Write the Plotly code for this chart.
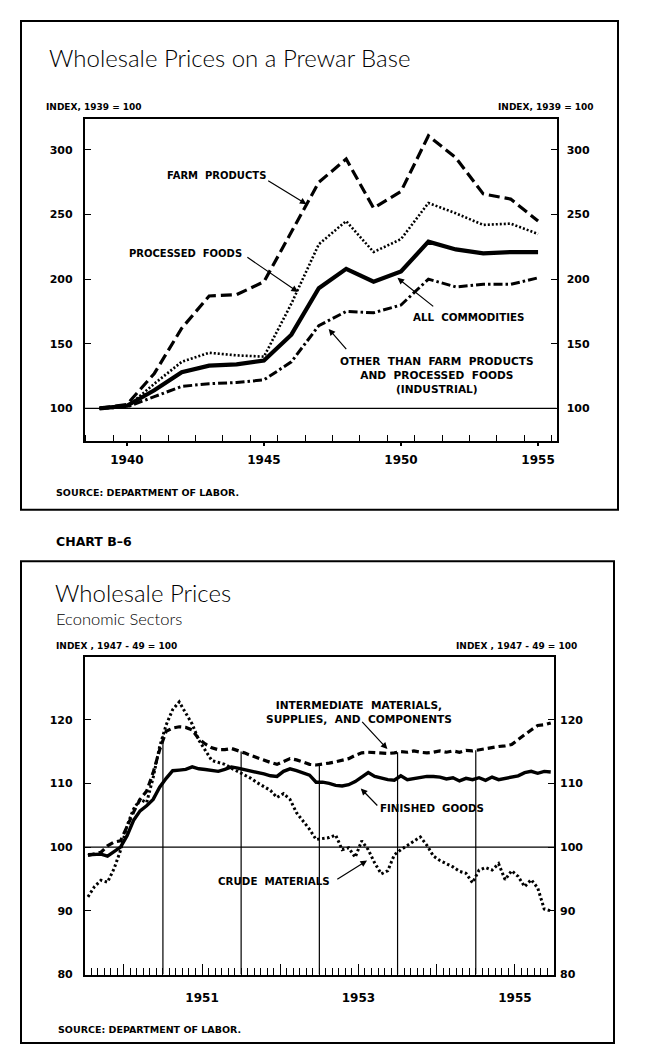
import plotly.graph_objects as go

W, H = 652, 1059

# ---------------- data: chart 1 (annual, 1939 = 100) ----------------
years = list(range(1939, 1956))
farm_products = [100, 103, 127, 162, 187, 188, 198, 237, 275, 293, 255, 268, 311, 294, 266, 262, 245]
processed_foods = [100, 101, 119, 136, 143, 141, 140, 181, 227, 245, 221, 231, 259, 251, 242, 243, 235]
all_commodities = [100, 102, 114, 128, 133, 134, 137, 157, 193, 208, 198, 206, 229, 223, 220, 221, 221]
industrial = [100, 101, 109, 117, 119, 120, 122, 136, 164, 175, 174, 180, 200, 194, 196, 196, 201]
top_ticks = [1940, 1945, 1950, 1955]
top_yticks = [100, 150, 200, 250, 300]

# ---------------- data: chart 2 (monthly 1950-1955, 1947-49 = 100) ----------------
start_year, n_years = 1950, 6
intermediate = [
    98.7, 99.0, 99.2, 100.2, 100.8, 101.0, 103.4, 105.5, 107.5, 108.8, 111.7, 115.3,
    118.2, 118.7, 118.9, 118.8, 118.4, 117.0, 116.2, 115.6, 115.3, 115.3, 115.5, 115.2,
    114.8, 114.4, 114.0, 113.6, 113.3, 113.0, 113.4, 113.9, 113.7, 113.3, 113.0, 112.9,
    113.0, 113.2, 113.4, 113.6, 113.9, 114.4, 114.8, 114.9, 114.8, 114.8, 114.7, 114.8,
    115.0, 114.9, 115.1, 114.9, 114.8, 114.9, 115.1, 114.9, 115.1, 114.9, 115.2, 115.1,
    115.3, 115.5, 115.6, 115.8, 115.9, 116.1, 116.9, 117.7, 118.4, 119.1, 119.2, 119.5,
]
finished = [
    98.8, 98.9, 98.9, 98.6, 99.3, 100.0, 101.8, 104.2, 105.7, 106.5, 107.5, 109.4,
    110.8, 112.0, 112.1, 112.2, 112.6, 112.3, 112.2, 112.0, 111.9, 112.2, 112.6, 112.4,
    112.2, 112.0, 111.8, 111.5, 111.2, 111.1, 111.9, 112.3, 112.0, 111.7, 111.3, 110.2,
    110.2, 110.0, 109.7, 109.6, 109.8, 110.3, 111.0, 111.7, 111.1, 110.8, 110.6, 110.5,
    111.2, 110.6, 110.8, 111.0, 111.1, 111.1, 111.0, 110.7, 110.9, 110.4, 110.8, 110.6,
    110.9, 110.5, 111.0, 110.6, 110.8, 110.9, 111.2, 111.7, 111.9, 111.6, 111.9, 111.8,
]
crude = [
    92.2, 93.8, 94.8, 94.5, 96.6, 99.5, 103.4, 106.0, 107.5, 107.0, 110.9, 115.8,
    119.2, 121.6, 122.8, 121.0, 119.3, 116.8, 115.3, 113.6, 113.3, 113.0, 112.4, 111.9,
    111.4, 110.8, 110.1, 109.5, 108.9, 107.8, 108.4, 107.5, 105.4, 104.1, 102.8, 101.2,
    101.3, 101.5, 101.9, 99.6, 99.9, 98.4, 101.0, 99.6, 97.5, 95.8, 96.3, 98.8,
    99.6, 100.3, 101.0, 101.6, 100.3, 98.6, 97.9, 97.4, 96.9, 96.2, 95.9, 94.4,
    96.4, 96.8, 96.4, 97.4, 94.9, 96.3, 95.4, 93.8, 94.9, 93.6, 90.3, 90.0,
]
bottom_labels = ["", "1951", "", "1953", "", "1955"]
bottom_yticks = [80, 90, 100, 110, 120]
BASE = 100

months = [start_year + (i + 0.5) / 12 for i in range(len(crude))]

# ---------------- geometry helpers (pixel -> paper) ----------------
def px(x):
    return x / W

def py(y):
    return 1 - y / H

TOP_X = (76.7, 548.7)
TOP_Y = (112, 436)
BOT_X = (76.7, 546.0)
BOT_Y = (653, 973)
TOP_RANGE_X = [1938.46, 1955.68]
TOP_RANGE_Y = [74.6, 323.8]
BOT_RANGE_X = [start_year, start_year + n_years]
BOT_RANGE_Y = [80, 129.9]

LBL = "DejaVu Sans"
TITLE_FONT = "Lato"

fig = go.Figure()

# ---- chart 1 traces ----
fig.add_trace(go.Scatter(x=years, y=farm_products, mode="lines", xaxis="x", yaxis="y",
                         line=dict(color="black", width=3.2, dash="11px,5px")))
fig.add_trace(go.Scatter(x=years, y=processed_foods, mode="lines", xaxis="x", yaxis="y",
                         line=dict(color="black", width=2.6, dash="2px,2px")))
fig.add_trace(go.Scatter(x=years, y=all_commodities, mode="lines", xaxis="x", yaxis="y",
                         line=dict(color="black", width=4.2)))
fig.add_trace(go.Scatter(x=years, y=industrial, mode="lines", xaxis="x", yaxis="y",
                         line=dict(color="black", width=3, dash="9px,3px,2.5px,3px")))
fig.add_trace(go.Scatter(x=TOP_RANGE_X, y=[BASE, BASE], mode="lines", xaxis="x", yaxis="y3",
                         line=dict(color="black", width=1.3)))

# ---- chart 2 traces ----
# vertical drop lines at each year boundary, from the axis up to the highest series
vx, vy = [], []
for k in range(1, n_years):
    i = 12 * k
    top = max((s[i - 1] + s[i]) / 2 for s in (intermediate, finished, crude))
    vx += [start_year + k, start_year + k, None]
    vy += [BOT_RANGE_Y[0], top, None]
fig.add_trace(go.Scatter(x=vx, y=vy, mode="lines", xaxis="x2", yaxis="y2",
                         line=dict(color="black", width=1.2)))
fig.add_trace(go.Scatter(x=BOT_RANGE_X, y=[BASE, BASE], mode="lines", xaxis="x2", yaxis="y4",
                         line=dict(color="black", width=1.3)))
fig.add_trace(go.Scatter(x=months, y=crude, mode="lines", xaxis="x2", yaxis="y2",
                         line=dict(color="black", width=3, dash="2.5px,2.5px")))
fig.add_trace(go.Scatter(x=months, y=intermediate, mode="lines", xaxis="x2", yaxis="y2",
                         line=dict(color="black", width=3.2, dash="7px,4px")))
fig.add_trace(go.Scatter(x=months, y=finished, mode="lines", xaxis="x2", yaxis="y2",
                         line=dict(color="black", width=3.4)))

tick_font_y = dict(family=LBL, size=11, color="black", weight="bold")
tick_font_x = dict(family=LBL, size=12, color="black", weight="bold")

common_y = dict(showgrid=False, zeroline=False, ticks="inside", ticklen=6, tickwidth=1.3,
                tickcolor="black", tickfont=tick_font_y)

fig.update_layout(
    width=W, height=H, margin=dict(l=0, r=0, t=0, b=0),
    paper_bgcolor="white", plot_bgcolor="white", showlegend=False,
    xaxis=dict(domain=[px(TOP_X[0]), px(TOP_X[1])], anchor="y", range=TOP_RANGE_X,
               showgrid=False, zeroline=False, showline=True, mirror=True,
               linecolor="black", linewidth=1.6,
               tickmode="array", tickvals=top_ticks, ticktext=[str(t) for t in top_ticks],
               ticks="outside", ticklen=3, tickwidth=2, tickcolor="black",
               ticklabelstandoff=4, tickfont=tick_font_x,
               minor=dict(tick0=1939.5, dtick=1, ticks="inside", ticklen=6,
                          tickwidth=1.2, tickcolor="black")),
    yaxis=dict(domain=[py(TOP_Y[1]), py(TOP_Y[0])], anchor="x", range=TOP_RANGE_Y,
               showline=True, mirror=True, linecolor="black", linewidth=1.6,
               tickmode="array", tickvals=top_yticks, ticklabelstandoff=8, **common_y),
    yaxis3=dict(overlaying="y", anchor="x", side="right", range=TOP_RANGE_Y, showline=False,
                tickmode="array", tickvals=top_yticks, ticklabelstandoff=9, **common_y),
    xaxis2=dict(domain=[px(BOT_X[0]), px(BOT_X[1])], anchor="y2", range=BOT_RANGE_X,
                showgrid=False, zeroline=False, showline=True, mirror=True,
                linecolor="black", linewidth=1.6,
                tickmode="array", tickvals=[start_year + k + 0.5 for k in range(n_years)],
                ticktext=bottom_labels, ticks="inside", ticklen=11, tickwidth=1.2,
                tickcolor="black", ticklabelstandoff=11, tickfont=tick_font_x,
                minor=dict(tick0=start_year, dtick=1 / 12, ticks="inside", ticklen=7,
                           tickwidth=1, tickcolor="black")),
    yaxis2=dict(domain=[py(BOT_Y[1]), py(BOT_Y[0])], anchor="x2", range=BOT_RANGE_Y,
                showline=True, mirror=True, linecolor="black", linewidth=1.6,
                tickmode="array", tickvals=bottom_yticks, ticklabelstandoff=8, **common_y),
    yaxis4=dict(overlaying="y2", anchor="x2", side="right", range=BOT_RANGE_Y, showline=False,
                tickmode="array", tickvals=bottom_yticks, ticklabelstandoff=5, **common_y),
)

# ---- frames ----
for (x0, y0, x1, y1) in [(13, 13, 610, 505), (13, 557, 606, 1042)]:
    fig.add_shape(type="rect", xref="paper", yref="paper", x0=px(x0), x1=px(x1),
                  y0=py(y1), y1=py(y0), line=dict(color="black", width=2))

def ptext(text, x, y, size, anchor="left", family=LBL, weight="bold", yanchor="middle"):
    fig.add_annotation(text=text, xref="paper", yref="paper", x=px(x), y=py(y),
                       xanchor=anchor, yanchor=yanchor, showarrow=False,
                       font=dict(family=family, size=size, color="black", weight=weight))

# ---- chart 1 texts ----
ptext("Wholesale Prices on a Prewar Base", 39, 50, 24, family=TITLE_FONT, weight=300)
ptext("INDEX, 1939 = 100", 36, 100, 9)
ptext("INDEX, 1939 = 100", 588, 100, 9, anchor="right")
ptext("SOURCE: DEPARTMENT OF LABOR.", 46, 488, 9.5)
ptext("CHART B\u20136", 46, 537, 12.5)

# ---- chart 2 texts ----
ptext("Wholesale Prices", 45, 588, 24, family=TITLE_FONT, weight=300)
ptext("Economic Sectors", 46, 615, 16.5, family=TITLE_FONT, weight=300)
ptext("INDEX , 1947 - 49 = 100", 46, 642, 9)
ptext("INDEX , 1947 - 49 = 100", 571, 642, 9, anchor="right")
ptext("SOURCE: DEPARTMENT OF LABOR.", 48, 1028, 9.5)

def dtext(text, x, y, xa, ya, size=10.3):
    fig.add_annotation(text=text, x=x, y=y, xref=xa, yref=ya, showarrow=False,
                       xanchor="center", yanchor="middle", align="center",
                       font=dict(family=LBL, size=size, color="black", weight="bold"))

def arrow(x, y, ax, ay, xa, ya):
    fig.add_annotation(text="", x=x, y=y, ax=ax, ay=ay, xref=xa, yref=ya,
                       axref=xa, ayref=ya, showarrow=True, arrowhead=2,
                       arrowsize=1.1, arrowwidth=1.2, arrowcolor="black", standoff=0)

# chart 1 labels and leaders
dtext("FARM  PRODUCTS", 1943.28, 280, "x", "y", 10)
arrow(1946.55, 258, 1945.1, 277, "x", "y")
dtext("PROCESSED  FOODS", 1942.15, 220, "x", "y", 10)
arrow(1946.24, 190, 1944.34, 217.7, "x", "y")
dtext("ALL  COMMODITIES", 1952.47, 170.7, "x", "y")
arrow(1949.87, 201, 1951.23, 178, "x", "y")
dtext("OTHER  THAN  FARM  PRODUCTS<br>AND  PROCESSED  FOODS<br>(INDUSTRIAL)", 1951.32, 126, "x", "y", 10.6)
arrow(1947.36, 161.5, 1948.05, 144.6, "x", "y")

# chart 2 labels and leaders
dtext("INTERMEDIATE  MATERIALS,<br>SUPPLIES,  AND  COMPONENTS", 1953.51, 121.2, "x2", "y2", 10.6)
arrow(1953.87, 115.4, 1953.53, 119.9, "x2", "y2")
dtext("FINISHED  GOODS", 1954.44, 106.2, "x2", "y2")
arrow(1953.53, 109.2, 1953.76, 106.3, "x2", "y2")
dtext("CRUDE  MATERIALS", 1952.42, 94.7, "x2", "y2")
arrow(1953.61, 97.9, 1953.21, 94.8, "x2", "y2")

fig.write_html("out.html")
